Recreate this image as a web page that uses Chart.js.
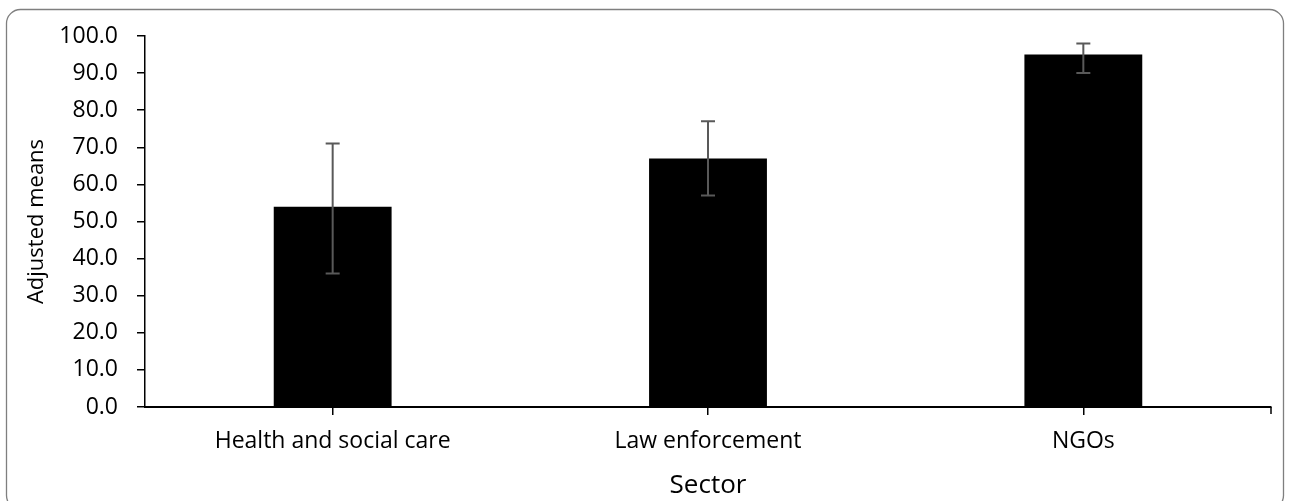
<!DOCTYPE html>
<html>
<head>
<meta charset="utf-8">
<script src="https://cdn.jsdelivr.net/npm/chart.js@4/dist/chart.umd.min.js"></script>
<style>
  html, body { margin: 0; padding: 0; background: #fff; }
  #wrap { width: 1292px; height: 501px; position: relative; }
</style>
</head>
<body>
<div id="wrap"><canvas id="c" width="1292" height="501"></canvas></div>
<script>
const categories = ["Health and social care", "Law enforcement", "NGOs"];
const adjustedMeans = [54, 67, 95];
const errLow = [36, 57, 90];
const errHigh = [71, 77, 98];
const yTicks = [0, 10, 20, 30, 40, 50, 60, 70, 80, 90, 100];

const FONT = "'Open Sans', 'DejaVu Sans', sans-serif";

const frame = {
  id: 'frame',
  beforeDraw(chart) {
    const ctx = chart.ctx;
    ctx.save();
    ctx.fillStyle = '#fff';
    ctx.fillRect(0, 0, chart.width, chart.height);
    ctx.strokeStyle = '#7f7f7f';
    ctx.lineWidth = 1.3;
    ctx.beginPath();
    ctx.roundRect(6.5, 9.5, 1277, 500, 14);
    ctx.stroke();
    ctx.restore();
  }
};

const errorBars = {
  id: 'errorBars',
  afterDatasetsDraw(chart) {
    const ctx = chart.ctx;
    const x = chart.scales.x, y = chart.scales.y;
    ctx.save();
    ctx.strokeStyle = '#595959';
    ctx.lineWidth = 2;
    categories.forEach((c, i) => {
      const px = x.getPixelForValue(i);
      const lo = y.getPixelForValue(errLow[i]);
      const hi = y.getPixelForValue(errHigh[i]);
      ctx.beginPath();
      ctx.moveTo(px, lo); ctx.lineTo(px, hi);
      ctx.moveTo(px - 7, lo); ctx.lineTo(px + 7, lo);
      ctx.moveTo(px - 7, hi); ctx.lineTo(px + 7, hi);
      ctx.stroke();
    });
    const ca = chart.chartArea;
    ctx.strokeStyle = '#000';
    ctx.lineWidth = 1.5;
    ctx.beginPath();
    ctx.moveTo(ca.right, ca.bottom);
    ctx.lineTo(ca.right, ca.bottom + 7);
    ctx.stroke();
    ctx.restore();
  }
};

new Chart(document.getElementById('c'), {
  type: 'bar',
  data: {
    labels: categories,
    datasets: [{
      data: adjustedMeans,
      backgroundColor: '#000000',
      borderWidth: 0,
      barPercentage: 0.628,
      categoryPercentage: 0.5
    }]
  },
  options: {
    responsive: false,
    animation: false,
    devicePixelRatio: 1,
    layout: { padding: { left: 0, top: 36, right: 21, bottom: 0 } },
    plugins: { legend: { display: false }, tooltip: { enabled: false } },
    scales: {
      x: {
        afterFit(s) { s.height = 94; },
        grid: { offset: false, drawOnChartArea: false, drawTicks: true, tickLength: 8, color: '#000', lineWidth: 1.5 },
        border: { color: '#000', width: 2 },
        ticks: { color: '#000', font: { family: FONT, size: 23 }, padding: 13, maxRotation: 0 },
        title: { display: true, text: 'Sector', color: '#000', font: { family: FONT, size: 26 }, padding: { top: 6, bottom: 0 } }
      },
      y: {
        min: 0, max: 100,
        afterFit(s) { s.width = 145; },
        afterBuildTicks(s) { s.ticks = yTicks.map(v => ({ value: v })); },
        grid: { drawOnChartArea: false, drawTicks: true, tickLength: 8, color: '#000', lineWidth: 1.5 },
        border: { color: '#000', width: 1.5 },
        ticks: { color: '#000', font: { family: FONT, size: 23 }, padding: 19, callback: v => Number(v).toFixed(1) },
        title: { display: true, text: 'Adjusted means', color: '#000', font: { family: FONT, size: 22 }, padding: { top: 24, bottom: 4 } }
      }
    }
  },
  plugins: [frame, errorBars]
});
</script>
</body>
</html>
